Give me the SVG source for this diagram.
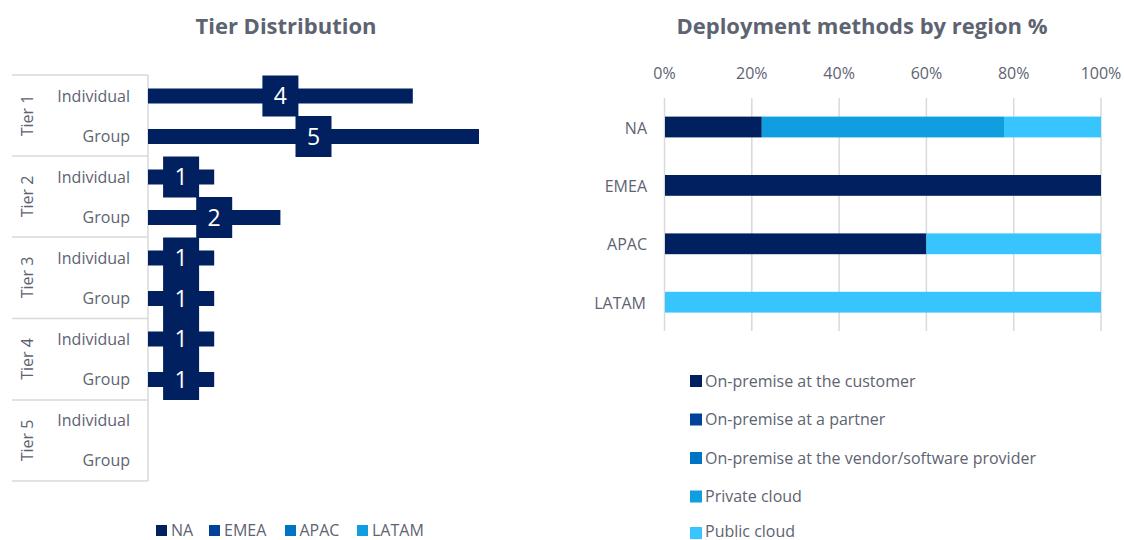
<svg xmlns="http://www.w3.org/2000/svg" width="1124" height="540" viewBox="0 0 1124 540">
<style>
text{font-family:"Open Sans","Liberation Sans",sans-serif;fill:#5E6372;font-size:16px}
.title{font-size:22px;font-weight:bold;text-anchor:middle}
.lab{text-anchor:end}
.num{fill:#FFFFFF;font-size:23px;text-anchor:middle}
.grid{stroke:#D9D9D9;stroke-width:1.5;fill:none}
.bar{fill:#002060}
.c1{fill:#002060}.c2{fill:#00429A}.c3{fill:#0074C4}.c4{fill:#119EE1}.c5{fill:#38C4FF}
</style>
<rect width="1124" height="540" fill="#FFFFFF"/>

<!-- LEFT CHART -->
<g id="left-title"><text class="title" x="286" y="34">Tier Distribution</text></g>
<g id="left-axis">
<line class="grid" x1="148" y1="75" x2="148" y2="481"/>
<line class="grid" x1="12" y1="75" x2="148" y2="75"/>
<line class="grid" x1="12" y1="156" x2="148" y2="156"/>
<line class="grid" x1="12" y1="237" x2="148" y2="237"/>
<line class="grid" x1="12" y1="318.5" x2="148" y2="318.5"/>
<line class="grid" x1="12" y1="400" x2="148" y2="400"/>
<line class="grid" x1="12" y1="481" x2="148" y2="481"/>
<text transform="translate(33,115.5) rotate(-90)" text-anchor="middle">Tier 1</text>
<text transform="translate(33,196.5) rotate(-90)" text-anchor="middle">Tier 2</text>
<text transform="translate(33,277.5) rotate(-90)" text-anchor="middle">Tier 3</text>
<text transform="translate(33,359) rotate(-90)" text-anchor="middle">Tier 4</text>
<text transform="translate(33,440.5) rotate(-90)" text-anchor="middle">Tier 5</text>
<text class="lab" x="130" y="101.5">Individual</text>
<text class="lab" x="130" y="142">Group</text>
<text class="lab" x="130" y="182.5">Individual</text>
<text class="lab" x="130" y="223">Group</text>
<text class="lab" x="130" y="263.5">Individual</text>
<text class="lab" x="130" y="304">Group</text>
<text class="lab" x="130" y="344.5">Individual</text>
<text class="lab" x="130" y="385">Group</text>
<text class="lab" x="130" y="425.5">Individual</text>
<text class="lab" x="130" y="466">Group</text>
</g>
<g id="t1-individual"><rect class="bar" x="148" y="88.5" width="264.8" height="15"/><rect class="bar" x="262.4" y="75.5" width="36" height="41"/><text class="num" x="280.4" y="104">4</text></g>
<g id="t1-group"><rect class="bar" x="148" y="129" width="331" height="15"/><rect class="bar" x="295.5" y="116" width="36" height="41"/><text class="num" x="313.5" y="144.5">5</text></g>
<g id="t2-individual"><rect class="bar" x="148" y="169.5" width="66.2" height="15"/><rect class="bar" x="163.1" y="156.5" width="36" height="41"/><text class="num" x="181.1" y="185">1</text></g>
<g id="t2-group"><rect class="bar" x="148" y="210" width="132.4" height="15"/><rect class="bar" x="196.2" y="197" width="36" height="41"/><text class="num" x="214.2" y="225.5">2</text></g>
<g id="t3-individual"><rect class="bar" x="148" y="250.5" width="66.2" height="15"/><rect class="bar" x="163.1" y="237.5" width="36" height="41"/><text class="num" x="181.1" y="266">1</text></g>
<g id="t3-group"><rect class="bar" x="148" y="291" width="66.2" height="15"/><rect class="bar" x="163.1" y="278" width="36" height="41"/><text class="num" x="181.1" y="306.5">1</text></g>
<g id="t4-individual"><rect class="bar" x="148" y="331.5" width="66.2" height="15"/><rect class="bar" x="163.1" y="318.5" width="36" height="41"/><text class="num" x="181.1" y="347">1</text></g>
<g id="t4-group"><rect class="bar" x="148" y="372" width="66.2" height="15"/><rect class="bar" x="163.1" y="359" width="36" height="41"/><text class="num" x="181.1" y="387.5">1</text></g>
<g id="left-legend">
<rect class="c1" x="156" y="525" width="11" height="11"/><text x="171" y="536">NA</text>
<rect class="c2" x="209" y="525" width="11" height="11"/><text x="224" y="536">EMEA</text>
<rect class="c3" x="285" y="525" width="11" height="11"/><text x="299.5" y="536">APAC</text>
<rect class="c4" x="357" y="525" width="11" height="11"/><text x="372" y="536">LATAM</text>
</g>

<!-- RIGHT CHART -->
<g id="right-title"><text class="title" x="862" y="34">Deployment methods by region %</text></g>
<g id="right-axis">
<line class="grid" x1="664.5" y1="98" x2="664.5" y2="331"/>
<line class="grid" x1="751.8" y1="98" x2="751.8" y2="331"/>
<line class="grid" x1="839.1" y1="98" x2="839.1" y2="331"/>
<line class="grid" x1="926.4" y1="98" x2="926.4" y2="331"/>
<line class="grid" x1="1013.7" y1="98" x2="1013.7" y2="331"/>
<line class="grid" x1="1101" y1="98" x2="1101" y2="331"/>
<text x="664.5" y="79" text-anchor="middle">0%</text>
<text x="751.8" y="79" text-anchor="middle">20%</text>
<text x="839.1" y="79" text-anchor="middle">40%</text>
<text x="926.4" y="79" text-anchor="middle">60%</text>
<text x="1013.7" y="79" text-anchor="middle">80%</text>
<text x="1101" y="79" text-anchor="middle">100%</text>
<text class="lab" x="647" y="133.5">NA</text>
<text class="lab" x="647" y="192">EMEA</text>
<text class="lab" x="647" y="250.3">APAC</text>
<text class="lab" x="646" y="308.7">LATAM</text>
</g>
<g id="bar-na">
<rect class="c1" x="665" y="116.6" width="96.8" height="20.8"/>
<rect class="c4" x="761.8" y="116.6" width="242.2" height="20.8"/>
<rect class="c5" x="1004" y="116.6" width="97" height="20.8"/>
</g>
<g id="bar-emea"><rect class="c1" x="665" y="175" width="436" height="20.8"/></g>
<g id="bar-apac">
<rect class="c1" x="665" y="233.4" width="261.4" height="20.8"/>
<rect class="c5" x="926.4" y="233.4" width="174.6" height="20.8"/>
</g>
<g id="bar-latam"><rect class="c5" x="665" y="291.8" width="436" height="20.8"/></g>
<g id="right-legend">
<rect class="c1" x="690" y="375" width="12" height="12"/><text x="705" y="386.5">On-premise at the customer</text>
<rect class="c2" x="690" y="413.5" width="12" height="12"/><text x="705" y="425">On-premise at a partner</text>
<rect class="c3" x="690" y="452" width="12" height="12"/><text x="705" y="463.5">On-premise at the vendor/software provider</text>
<rect class="c4" x="690" y="490.5" width="12" height="12"/><text x="705" y="502">Private cloud</text>
<rect class="c5" x="690" y="527" width="12" height="12"/><text x="705" y="537">Public cloud</text>
</g>
</svg>
